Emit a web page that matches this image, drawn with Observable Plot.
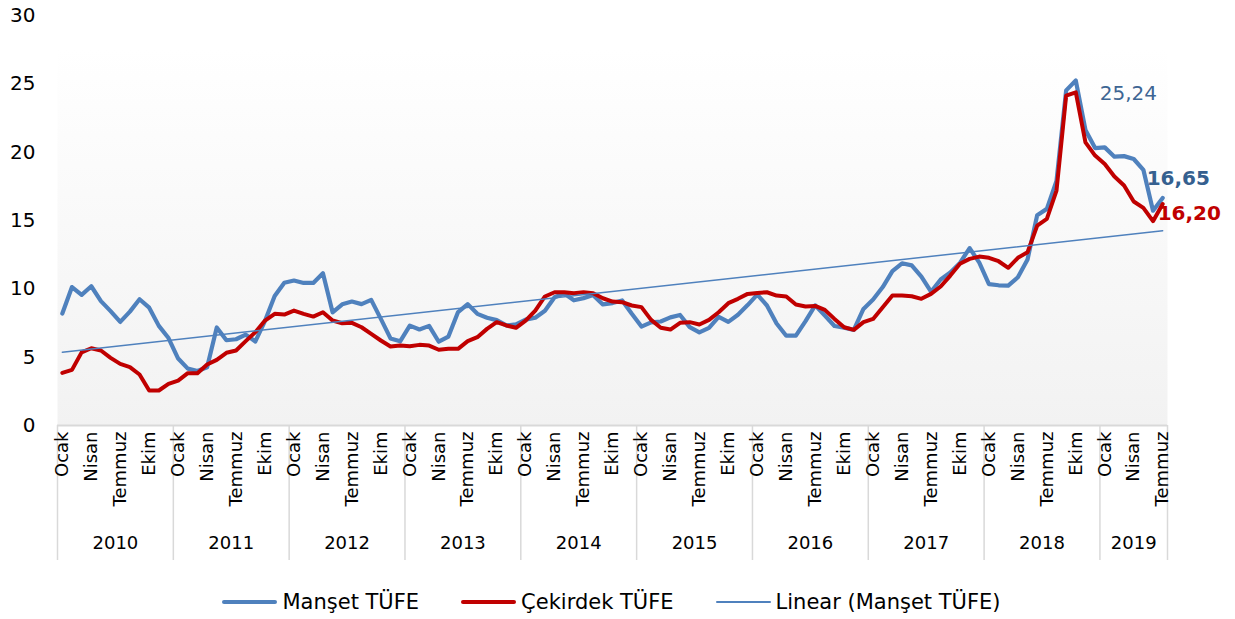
<!DOCTYPE html>
<html><head><meta charset="utf-8">
<script src="https://cdn.jsdelivr.net/npm/d3@7"></script>
<script src="https://cdn.jsdelivr.net/npm/@observablehq/plot@0.6"></script>
<style>
body{margin:0;background:#fff;font-family:"DejaVu Sans",Verdana,sans-serif;}
#legend{display:flex;justify-content:center;align-items:center;height:28px;margin-top:8px;font-size:21px;color:#000;padding-right:12px;}
.item{display:flex;align-items:center;margin:0 21px;}
.sw{width:55px;margin-right:5px;border-radius:2px;}
</style></head><body><div id="chart"></div><div id="legend"></div>
<script>
const monthNames = ["Ocak","Şubat","Mart","Nisan","Mayıs","Haziran","Temmuz","Ağustos","Eylül","Ekim","Kasım","Aralık"];
const years = [2010,2011,2012,2013,2014,2015,2016,2017,2018,2019];
const yTicks = [0,5,10,15,20,25,30];
const seriesNames = ["Manşet TÜFE","Çekirdek TÜFE","Linear (Manşet TÜFE)"];

// Manşet TÜFE (annual %), Jan 2010 – Jul 2019
const manset = [
  8.19,10.13,9.56,10.19,9.10,8.37,7.58,8.33,9.24,8.62,7.29,6.40,
  4.90,4.16,3.99,4.26,7.17,6.24,6.31,6.65,6.15,7.66,9.48,10.45,
  10.61,10.43,10.43,11.14,8.28,8.87,9.07,8.88,9.19,7.80,6.37,6.16,
  7.31,7.03,7.29,6.13,6.51,8.30,8.88,8.17,7.88,7.71,7.32,7.40,
  7.75,7.89,8.39,9.38,9.66,9.16,9.32,9.54,8.86,8.96,9.15,8.17,
  7.24,7.55,7.61,7.91,8.09,7.20,6.81,7.14,7.95,7.58,8.10,8.81,
  9.58,8.78,7.46,6.57,6.58,7.64,8.79,8.05,7.28,7.16,7.00,8.53,
  9.22,10.13,11.29,11.87,11.72,10.90,9.79,10.68,11.20,11.90,12.98,11.92,
  10.35,10.26,10.23,10.85,12.15,15.39,15.85,17.90,24.52,25.24,21.62,20.30,
  20.35,19.67,19.71,19.50,18.71,15.72,16.65
];
// Çekirdek TÜFE (annual %)
const cekirdek = [
  3.85,4.07,5.35,5.65,5.49,4.95,4.51,4.27,3.73,2.56,2.56,3.05,
  3.29,3.83,3.83,4.46,4.80,5.32,5.49,6.17,6.83,7.68,8.17,8.12,
  8.41,8.17,7.97,8.29,7.68,7.48,7.51,7.19,6.71,6.22,5.78,5.85,
  5.80,5.90,5.85,5.54,5.61,5.61,6.17,6.46,7.07,7.56,7.32,7.15,
  7.68,8.41,9.44,9.75,9.75,9.68,9.75,9.68,9.31,9.07,9.02,8.78,
  8.66,7.73,7.15,7.02,7.51,7.56,7.39,7.73,8.29,8.95,9.27,9.63,
  9.70,9.75,9.51,9.44,8.85,8.71,8.75,8.46,7.80,7.19,7.00,7.56,
  7.80,8.66,9.51,9.51,9.46,9.27,9.63,10.17,10.97,11.83,12.19,12.36,
  12.27,12.02,11.54,12.27,12.68,14.63,15.12,17.19,24.14,24.38,20.72,19.75,
  19.14,18.22,17.56,16.39,15.92,14.95,16.20
];

const data = manset.map((v, i) => ({
  i, year: years[0] + Math.floor(i / 12), month: monthNames[i % 12],
  manset: v, cekirdek: cekirdek[i]
}));
const n = data.length;
const monthTicks = data.filter(d => d.i % 3 === 0);
const yearInfo = years.map(y => {
  const idx = data.filter(d => d.year === y).map(d => d.i);
  return {year: String(y), first: d3.min(idx), last: d3.max(idx), mid: (d3.min(idx) + d3.max(idx)) / 2};
});
const bounds = yearInfo.map(d => d.first - 0.5).concat([yearInfo[yearInfo.length - 1].last + 0.5]);
const fmt = v => v.toFixed(2).replace(".", ",");
const peak = data[d3.maxIndex(data, d => d.manset)];
const last = data[n - 1];

const plot = Plot.plot({
  width: 1235, height: 580,
  marginLeft: 57, marginRight: 68, marginTop: 15, marginBottom: 155,
  style: {fontFamily: "DejaVu Sans, Verdana, sans-serif", color: "#000", background: "transparent"},
  x: {type: "linear", domain: [-0.5, n - 0.5], axis: null},
  y: {domain: [0, 30], axis: null},
  marks: [
    Plot.frame({fill: "url(#plotbg)", stroke: "none"}),
    Plot.axisY({ticks: yTicks, tickSize: 0, tickPadding: 22, fontSize: 20, tickFormat: d => d}),
    Plot.ruleY([0], {stroke: "#d9d9d9", strokeWidth: 2}),
    Plot.ruleX(bounds, {stroke: "#d9d9d9", strokeWidth: 1.5, insetTop: 410, insetBottom: -135}),
    Plot.text(monthTicks, {x: "i", text: "month", frameAnchor: "bottom", rotate: -90, textAnchor: "end", lineAnchor: "middle", dy: 6, fontSize: 18}),
    Plot.text(yearInfo, {x: "mid", text: "year", frameAnchor: "bottom", dy: 123, fontSize: 18}),
    Plot.line(data, {x: "i", y: "manset", stroke: "#4f81bd", strokeWidth: 4.2, strokeLinejoin: "round"}),
    Plot.line(data, {x: "i", y: "cekirdek", stroke: "#c00000", strokeWidth: 4, strokeLinejoin: "round"}),
    Plot.linearRegressionY(data, {x: "i", y: "manset", stroke: "#4f81bd", strokeWidth: 1.5, ci: 0}),
    Plot.text([peak], {x: "i", y: "manset", text: d => fmt(d.manset), textAnchor: "start", dx: 24, dy: 13, fontSize: 20, fill: "#3d6593"}),
    Plot.text([last], {x: "i", y: "manset", text: d => fmt(d.manset), textAnchor: "start", dx: -16, dy: -19, fontSize: 20, fontWeight: "bold", fill: "#35608f"}),
    Plot.text([last], {x: "i", y: "cekirdek", text: d => fmt(d.cekirdek), textAnchor: "start", dx: -5, dy: 9, fontSize: 20, fontWeight: "bold", fill: "#c00000"})
  ]
});
const defs = document.createElementNS("http://www.w3.org/2000/svg", "defs");
defs.innerHTML = '<linearGradient id="plotbg" x1="0" y1="0" x2="0" y2="1"><stop offset="0" stop-color="#ffffff"/><stop offset="0.08" stop-color="#ffffff"/><stop offset="1" stop-color="#f2f2f2"/></linearGradient>';
plot.insertBefore(defs, plot.firstChild);
document.getElementById("chart").appendChild(plot);

const legendStyles = [
  {color: "#4f81bd", h: 4},
  {color: "#c00000", h: 4},
  {color: "#4f81bd", h: 1.5}
];
const legend = document.getElementById("legend");
seriesNames.forEach((name, k) => {
  const item = document.createElement("div");
  item.className = "item";
  const sw = document.createElement("div");
  sw.className = "sw";
  sw.style.height = legendStyles[k].h + "px";
  sw.style.background = legendStyles[k].color;
  const t = document.createElement("span");
  t.textContent = name;
  item.appendChild(sw); item.appendChild(t);
  legend.appendChild(item);
});
</script></body></html>
